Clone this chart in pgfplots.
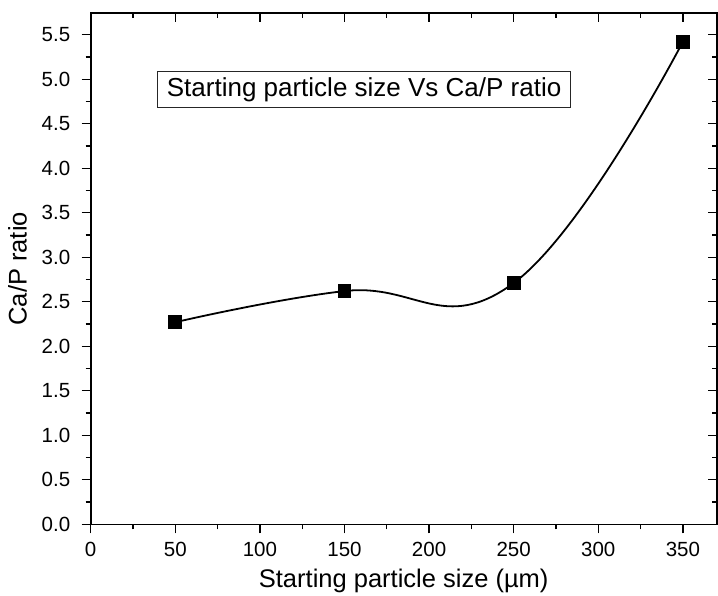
\documentclass[border=0pt]{standalone}
\usepackage{pgfplots}
\pgfplotsset{compat=1.18}
\usepackage{fontspec}
\setmainfont{Liberation Sans}
\begin{document}
\begin{tikzpicture}[x=1pt,y=1pt]
\path[use as bounding box] (0,0) rectangle (718,595);
\pgfplotsset{
  common/.style={
    at={(90.7pt,70.7pt)}, anchor=south west,
    width=626pt, height=511pt, scale only axis,
    xmin=0, xmax=370, ymin=0, ymax=5.74,
    xtick={0,50,...,350},
    ytick={0,0.5,...,5.5},
    minor x tick num=1, minor y tick num=1,
    axis line style={line width=1.6pt},
    every tick/.style={black, line width=1.3pt},
    major tick length=9pt, minor tick length=5pt,
    /pgf/number format/assume math mode=true,
    ticklabel style={font=\fontsize{20.5}{22}\selectfont},
  }
}
\begin{axis}[common,
    tick align=outside, xtick pos=bottom, ytick pos=left,
    yticklabel style={xshift=-8pt, /pgf/number format/fixed, /pgf/number format/fixed zerofill, /pgf/number format/precision=1},
    xticklabel style={yshift=-5pt},
    xlabel={Starting particle size (µm)},
    ylabel={Ca/P ratio},
    label style={font=\fontsize{25.5}{28}\selectfont},
    xlabel style={yshift=-6pt},
    ylabel style={yshift=8pt},
    clip=false,
  ]
  \addplot[black, line width=1.8pt, smooth, tension=0.75, mark=square*, mark size=6pt, mark options={solid}]
    coordinates {(50,2.27) (150,2.62) (250,2.71) (350,5.42)};
  \node[draw=black!85, line width=0.8pt, inner xsep=9pt, inner ysep=5.5pt,
        text height=19pt, text depth=5.5pt,
        font=\fontsize{26}{28}\selectfont] at (axis cs:161.6,4.885)
        {Starting particle size Vs Ca/P ratio};
\end{axis}
\begin{axis}[common,
    tick align=inside, xtick pos=top, ytick pos=right,
    xticklabels={}, yticklabels={},
  ]
\end{axis}
\end{tikzpicture}
\end{document}
